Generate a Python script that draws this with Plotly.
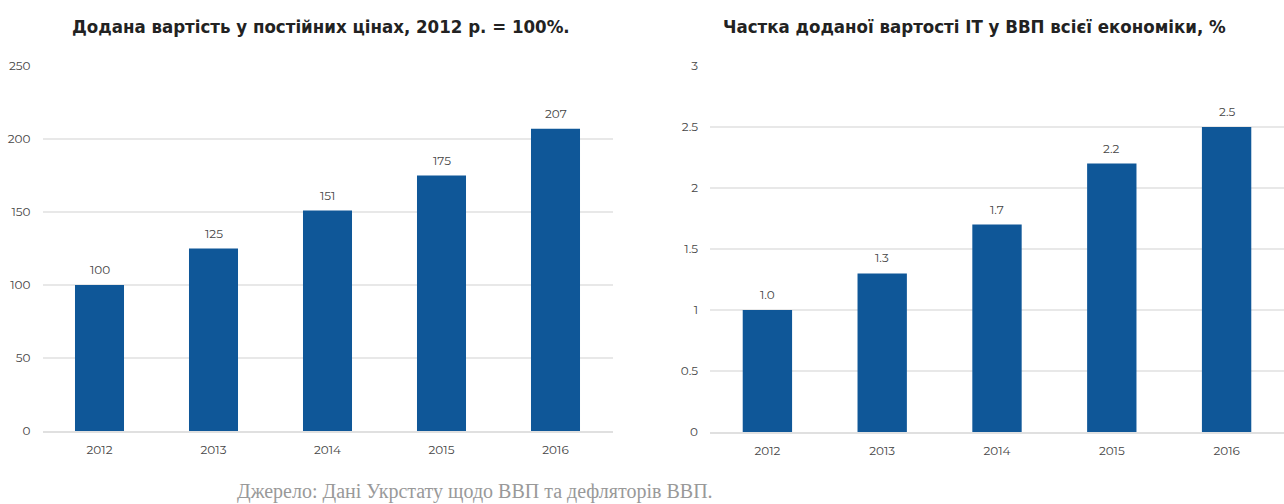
import plotly.graph_objects as go

years = ["2012", "2013", "2014", "2015", "2016"]
left_values = [100, 125, 151, 175, 207]
right_values = [1.0, 1.3, 1.7, 2.2, 2.5]
right_labels = ["1.0", "1.3", "1.7", "2.2", "2.5"]
left_labels = ["100", "125", "151", "175", "207"]
left_ticks = [0, 50, 100, 150, 200, 250]
right_ticks = [0, 0.5, 1, 1.5, 2, 2.5, 3]
left_title = "Додана вартість у постійних цінах, 2012 р. = 100%."
right_title = "Частка доданої вартості IT у ВВП всієї економіки, %"
source = "Джерело: Дані Укрстату щодо ВВП та дефляторів ВВП."

W, H = 1284, 504
fig = go.Figure()
tick_font = dict(family="Montserrat, Lato, sans-serif", size=12, color="#454545")
fig.add_bar(x=years, y=left_values, xaxis="x", yaxis="y", marker_color="#0F5798", width=0.43, marker_line_width=0)
fig.add_bar(x=years, y=right_values, xaxis="x2", yaxis="y2", marker_color="#0F5798", width=0.43, marker_line_width=0)
common_y = dict(showgrid=True, gridcolor="#E8E8E8", gridwidth=2, zeroline=False, showline=False,
                ticks="", tickfont=tick_font, automargin=False, ticklabelstandoff=11)
common_x = dict(showgrid=False, zeroline=False, showline=True, linecolor="#E0E0E0", linewidth=2,
                ticks="", tickfont=tick_font, automargin=False, ticklabelstandoff=7)


def value_notes(xref, yref, values, labels):
    return [dict(text=t, x=c, y=v, xref=xref, yref=yref, showarrow=False, yanchor="bottom",
                 yshift=6, font=tick_font) for c, v, t in zip(years, values, labels)]


title_font = dict(family="DejaVu Sans Condensed, DejaVu Sans", size=18.5, color="#222222")
fig.update_layout(
    width=W, height=H, showlegend=False, paper_bgcolor="white", plot_bgcolor="white",
    template="none", margin=dict(l=0, r=0, t=0, b=0),
    xaxis=dict(domain=[42.5/W, 612.5/W], anchor="y", **common_x),
    xaxis2=dict(domain=[710/W, 1], anchor="y2", **common_x),
    yaxis=dict(domain=[1-431/H, 1-66/H], anchor="x", range=[0, 250], tickvals=left_ticks, **common_y),
    yaxis2=dict(domain=[1-432/H, 1-66/H], anchor="x2", range=[0, 3], tickvals=right_ticks, **common_y),
    annotations=[
        dict(text=f"<b>{left_title}</b>", x=321/W, y=1-26/H, xref="paper", yref="paper", showarrow=False,
             xanchor="center", yanchor="middle", font=title_font),
        dict(text=f"<b>{right_title}</b>", x=974/W, y=1-26/H, xref="paper", yref="paper", showarrow=False,
             xanchor="center", yanchor="middle", font=title_font),
        dict(text=source, x=475/W, y=1-491/H, xref="paper", yref="paper", showarrow=False,
             xanchor="center", yanchor="middle", font=dict(family="Liberation Serif", size=20, color="#999999")),
    ] + value_notes("x", "y", left_values, left_labels) + value_notes("x2", "y2", right_values, right_labels),
)
fig.write_html("out.html", config={"displayModeBar": False},
               post_script="document.body.style.margin='0';document.documentElement.style.overflow='hidden';")
